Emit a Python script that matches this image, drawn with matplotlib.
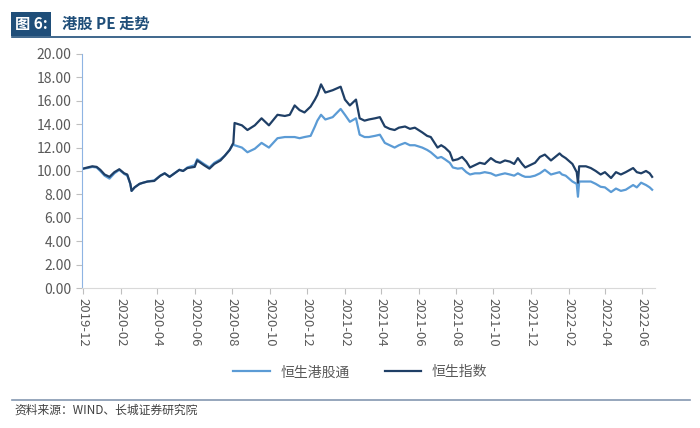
import matplotlib
matplotlib.use("Agg")
import matplotlib.pyplot as plt
import matplotlib.dates as mdates
import pandas as pd

plt.rcParams['font.family'] = ['Noto Sans CJK SC', 'DejaVu Sans']

# 日期与 PE 值
dates = [
    "2019-12-02", "2019-12-09", "2019-12-17", "2019-12-24", "2019-12-30",
    "2020-01-06", "2020-01-14", "2020-01-22", "2020-01-30", "2020-02-07",
    "2020-02-12", "2020-02-17", "2020-02-19", "2020-02-24", "2020-03-03",
    "2020-03-09", "2020-03-16", "2020-03-27", "2020-04-06", "2020-04-13",
    "2020-04-21", "2020-04-29", "2020-05-07", "2020-05-13", "2020-05-20",
    "2020-06-01", "2020-06-05", "2020-06-16", "2020-06-25", "2020-07-03",
    "2020-07-13", "2020-07-20", "2020-07-28", "2020-08-03", "2020-08-05",
    "2020-08-17", "2020-08-26", "2020-09-07", "2020-09-18", "2020-09-30",
    "2020-10-14", "2020-10-26", "2020-11-03", "2020-11-11", "2020-11-19",
    "2020-11-27", "2020-12-07", "2020-12-14", "2020-12-18", "2020-12-24",
    "2020-12-31", "2021-01-12", "2021-01-25", "2021-02-01", "2021-02-09",
    "2021-02-19", "2021-02-25", "2021-03-05", "2021-03-12", "2021-03-22",
    "2021-03-30", "2021-04-07", "2021-04-15", "2021-04-23", "2021-04-30",
    "2021-05-10", "2021-05-18", "2021-05-26", "2021-06-07", "2021-06-15",
    "2021-06-21", "2021-07-02", "2021-07-08", "2021-07-14", "2021-07-22",
    "2021-07-27", "2021-08-04", "2021-08-11", "2021-08-18", "2021-08-24",
    "2021-09-01", "2021-09-09", "2021-09-17", "2021-09-27", "2021-10-05",
    "2021-10-12", "2021-10-20", "2021-10-28", "2021-11-04", "2021-11-10",
    "2021-11-17", "2021-11-22", "2021-11-30", "2021-12-08", "2021-12-16",
    "2021-12-24", "2022-01-03", "2022-01-10", "2022-01-17", "2022-01-21",
    "2022-01-27", "2022-02-07", "2022-02-14", "2022-02-16", "2022-02-18",
    "2022-03-01", "2022-03-09", "2022-03-17", "2022-03-25", "2022-04-01",
    "2022-04-11", "2022-04-19", "2022-04-27", "2022-05-05", "2022-05-17",
    "2022-05-23", "2022-05-30", "2022-06-07", "2022-06-13", "2022-06-17",
]

hsi_pe = [
    10.2, 10.3, 10.4, 10.35, 10.1,
    9.7, 9.5, 9.9, 10.15, 9.8,
    9.7, 8.9, 8.3, 8.6, 8.9,
    9.0, 9.1, 9.15, 9.6, 9.8,
    9.5, 9.8, 10.1, 10.0, 10.25,
    10.35, 10.9, 10.5, 10.2, 10.6,
    10.9, 11.3, 11.8, 12.4, 14.1,
    13.9, 13.5, 13.9, 14.5, 13.9,
    14.8, 14.7, 14.8, 15.6, 15.2,
    15.0, 15.5, 16.1, 16.5, 17.4,
    16.7, 16.9, 17.2, 16.1, 15.6,
    16.1, 14.5, 14.3, 14.4, 14.5,
    14.6, 13.8, 13.6, 13.5, 13.7,
    13.8, 13.6, 13.7, 13.3, 13.0,
    12.9, 12.0, 12.2, 12.0, 11.6,
    10.9, 11.0, 11.2, 10.8, 10.3,
    10.5, 10.7, 10.6, 11.1, 10.8,
    10.7, 10.9, 10.8, 10.6, 11.1,
    10.6, 10.3, 10.5, 10.7, 11.2,
    11.4, 10.9, 11.2, 11.5, 11.3,
    11.1, 10.6, 9.9, 9.0, 10.4,
    10.4, 10.25, 10.0, 9.7, 9.9,
    9.4, 9.9, 9.7, 9.9, 10.25,
    9.9, 9.8, 10.0, 9.8, 9.5,
]

ggt_pe = [
    10.2, 10.25, 10.35, 10.3, 10.0,
    9.6, 9.35, 9.8, 10.1, 9.75,
    9.6, 8.9, 8.3, 8.6, 8.9,
    9.0, 9.1, 9.2, 9.6, 9.8,
    9.5, 9.8, 10.1, 10.0, 10.3,
    10.5, 11.0, 10.6, 10.3, 10.7,
    11.0, 11.3, 11.8, 12.3, 12.2,
    12.0, 11.6, 11.9, 12.4, 12.0,
    12.8, 12.9, 12.9, 12.9, 12.8,
    12.9, 13.0, 13.8, 14.3, 14.8,
    14.4, 14.6, 15.3, 14.8, 14.2,
    14.5, 13.1, 12.9, 12.9, 13.0,
    13.1, 12.4, 12.2, 12.0, 12.2,
    12.4, 12.2, 12.2, 12.0, 11.8,
    11.6, 11.1, 11.2, 11.0, 10.7,
    10.3, 10.2, 10.25, 9.9, 9.7,
    9.8, 9.8, 9.9, 9.8, 9.6,
    9.7, 9.8, 9.7, 9.6, 9.8,
    9.6, 9.5, 9.5, 9.6, 9.8,
    10.1, 9.7, 9.8, 9.9, 9.7,
    9.6, 9.1, 8.9, 7.8, 9.1,
    9.1, 9.1, 8.9, 8.65, 8.6,
    8.2, 8.5, 8.3, 8.4, 8.8,
    8.6, 9.0, 8.8, 8.6, 8.4,
]

series_names = ["恒生港股通", "恒生指数"]
yticks = [0, 2, 4, 6, 8, 10, 12, 14, 16, 18, 20]

x = pd.to_datetime(dates)
c_light = "#5B9BD5"
c_dark = "#1F3F66"
c_text = "#595959"

fig = plt.figure(figsize=(7, 4.28), dpi=100)
ax = fig.add_axes([0.117, 0.327, 0.819, 0.547])

ax.plot(x, ggt_pe, color=c_light, lw=1.6, label=series_names[0])
ax.plot(x, hsi_pe, color=c_dark, lw=1.6, label=series_names[1])

ax.set_ylim(0, 20)
ax.set_yticks(yticks)
ax.set_yticklabels(["{:.2f}".format(v) for v in yticks])
ax.set_xlim(pd.Timestamp("2019-11-30"), pd.Timestamp("2022-06-22"))
ax.xaxis.set_major_locator(mdates.MonthLocator(bymonth=[2, 4, 6, 8, 10, 12]))
ax.xaxis.set_major_formatter(mdates.DateFormatter("%Y-%m"))
for lab in ax.get_xticklabels():
    lab.set_rotation(270)
    lab.set_ha("center")
    lab.set_va("top")

for s in ["top", "right"]:
    ax.spines[s].set_visible(False)
ax.spines["left"].set_color("#8EB4E3")
ax.spines["bottom"].set_color("#D9D9D9")
ax.tick_params(axis="y", colors="#BFBFBF", labelcolor=c_text, labelsize=10, length=4, width=0.8)
ax.tick_params(axis="x", colors="#BFBFBF", labelcolor=c_text, labelsize=9.5, length=4, width=0.8)

leg = fig.legend(loc="center", bbox_to_anchor=(0.515, 0.13), ncol=2, frameon=False,
                 fontsize=10, handlelength=2.6, columnspacing=2.5)
for t in leg.get_texts():
    t.set_color(c_text)

# 标题
fig.text(0.021, 0.944, "图 6:", color="white", fontsize=11, fontweight="bold",
         va="center", ha="left",
         bbox=dict(boxstyle="square,pad=0.25", fc="#1F4E79", ec="none"))
fig.text(0.088, 0.944, "港股 PE 走势", color="#1F4E79", fontsize=11, fontweight="bold",
         va="center", ha="left")
fig.add_artist(plt.Line2D([0.017, 0.986], [0.913, 0.913], color="#1F4E79", lw=1.2))

# 资料来源
fig.add_artist(plt.Line2D([0.017, 0.986], [0.066, 0.066], color="#8497B0", lw=1.2))
fig.text(0.021, 0.042, "资料来源：WIND、长城证券研究院", color="#404040", fontsize=8.5,
         style="italic", va="center", ha="left")

fig.savefig("out.png", dpi=100)
